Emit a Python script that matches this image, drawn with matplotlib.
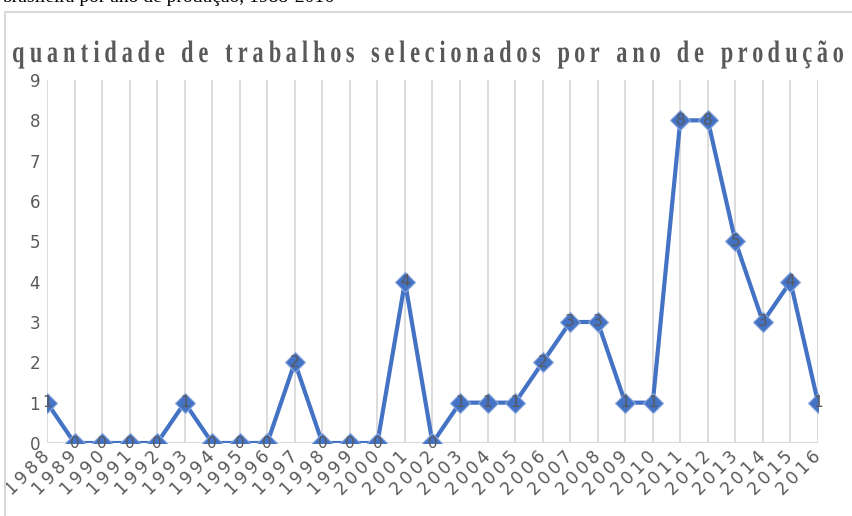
import matplotlib
matplotlib.use("Agg")
import matplotlib.pyplot as plt
from matplotlib.patches import Rectangle, PathPatch
from matplotlib.textpath import TextPath
from matplotlib.font_manager import FontProperties
from matplotlib.transforms import Affine2D

anos = [str(a) for a in range(1988, 2017)]
quantidade = [1, 0, 0, 0, 0, 1, 0, 0, 0, 2, 0, 0, 0, 4, 0, 1, 1, 1, 2, 3, 3, 1, 1, 8, 8, 5, 3, 4, 1]
titulo = "quantidade de trabalhos selecionados por ano de produção"
legenda_topo = "brasileira por ano de produção, 1988-2016"

W, H = 853, 516
fig = plt.figure(figsize=(W / 100, H / 100), dpi=100)
ax = fig.add_axes([47 / W, 1 - 443 / H, (818 - 47) / W, (443 - 80) / H])

grey = "#595959"
grid = "#D9D9D9"
blue = "#4472C4"

# chart frame
fig.patches.append(Rectangle((5 / W, -0.05), 1.0, 1 - 12 / H + 0.05, transform=fig.transFigure,
                             fill=False, edgecolor=grid, linewidth=1.5))

x = list(range(len(anos)))
for xi in x:
    ax.axvline(xi, color=grid, linewidth=1.3, zorder=0)
ax.axhline(0, color=grid, linewidth=1.5, zorder=1)

ax.plot(x, quantidade, color=blue, linewidth=3, marker="D", markersize=10,
        markerfacecolor=blue, markeredgecolor="#8FAADC", markeredgewidth=0.8, zorder=3)
for xi, v in zip(x, quantidade):
    ax.text(xi, v, str(v), ha="center", va="center", fontsize=11, color=grey,
            family="DejaVu Sans", zorder=4)

ax.set_xlim(0, len(anos) - 1)
ax.set_ylim(0, 9)
ax.set_yticks(range(10))
ax.set_yticklabels([str(i) for i in range(10)], fontsize=12, color=grey, family="DejaVu Sans")
ax.set_xticks(x)
# wide tracking on the rotated year labels
ax.set_xticklabels(["\u2009".join(a) for a in anos], rotation=45, ha="right", va="center",
                   rotation_mode="anchor", fontsize=12.5, color=grey, family="DejaVu Sans")
ax.tick_params(length=0)
ax.tick_params(axis="x", pad=8)
ax.tick_params(axis="y", pad=5)
for s in ax.spines.values():
    s.set_visible(False)

# letter-spaced, condensed serif title drawn glyph by glyph (pixel coords)
fp = FontProperties(family="Liberation Serif", weight="bold")
em, sx = 31, 0.72
glyphs = []
for ch in titulo:
    if ch == " ":
        glyphs.append(None)
        continue
    p = TextPath((0, 0), ch, size=em, prop=fp)
    e = p.get_extents()
    glyphs.append((p, e.x0, e.width))
x0, x1 = 13, 843
ink = sum(g[2] * sx for g in glyphs if g)
n_sp = titulo.count(" ")
n_gap = sum(1 for a, b in zip(titulo, titulo[1:]) if a != " " and b != " ")
# word break = 3 letter gaps
gap = (x1 - x0 - ink) / (n_gap + 3 * n_sp)
cx = x0
base = H - 62
for i, (ch, g) in enumerate(zip(titulo, glyphs)):
    if g is None:
        cx += 3 * gap
        continue
    p, ex0, w = g
    tr = Affine2D().translate(-ex0, 0).scale(sx, 1.0).translate(cx, base)
    fig.patches.append(PathPatch(p, transform=tr, facecolor=grey, edgecolor="none"))
    cx += w * sx
    if i + 1 < len(titulo) and titulo[i + 1] != " ":
        cx += gap

fig.text(2 / W, 1 - 2 / H, legenda_topo, ha="left", va="baseline", fontsize=14,
         family="Liberation Serif", color="black")

fig.savefig("out.png", dpi=100)
